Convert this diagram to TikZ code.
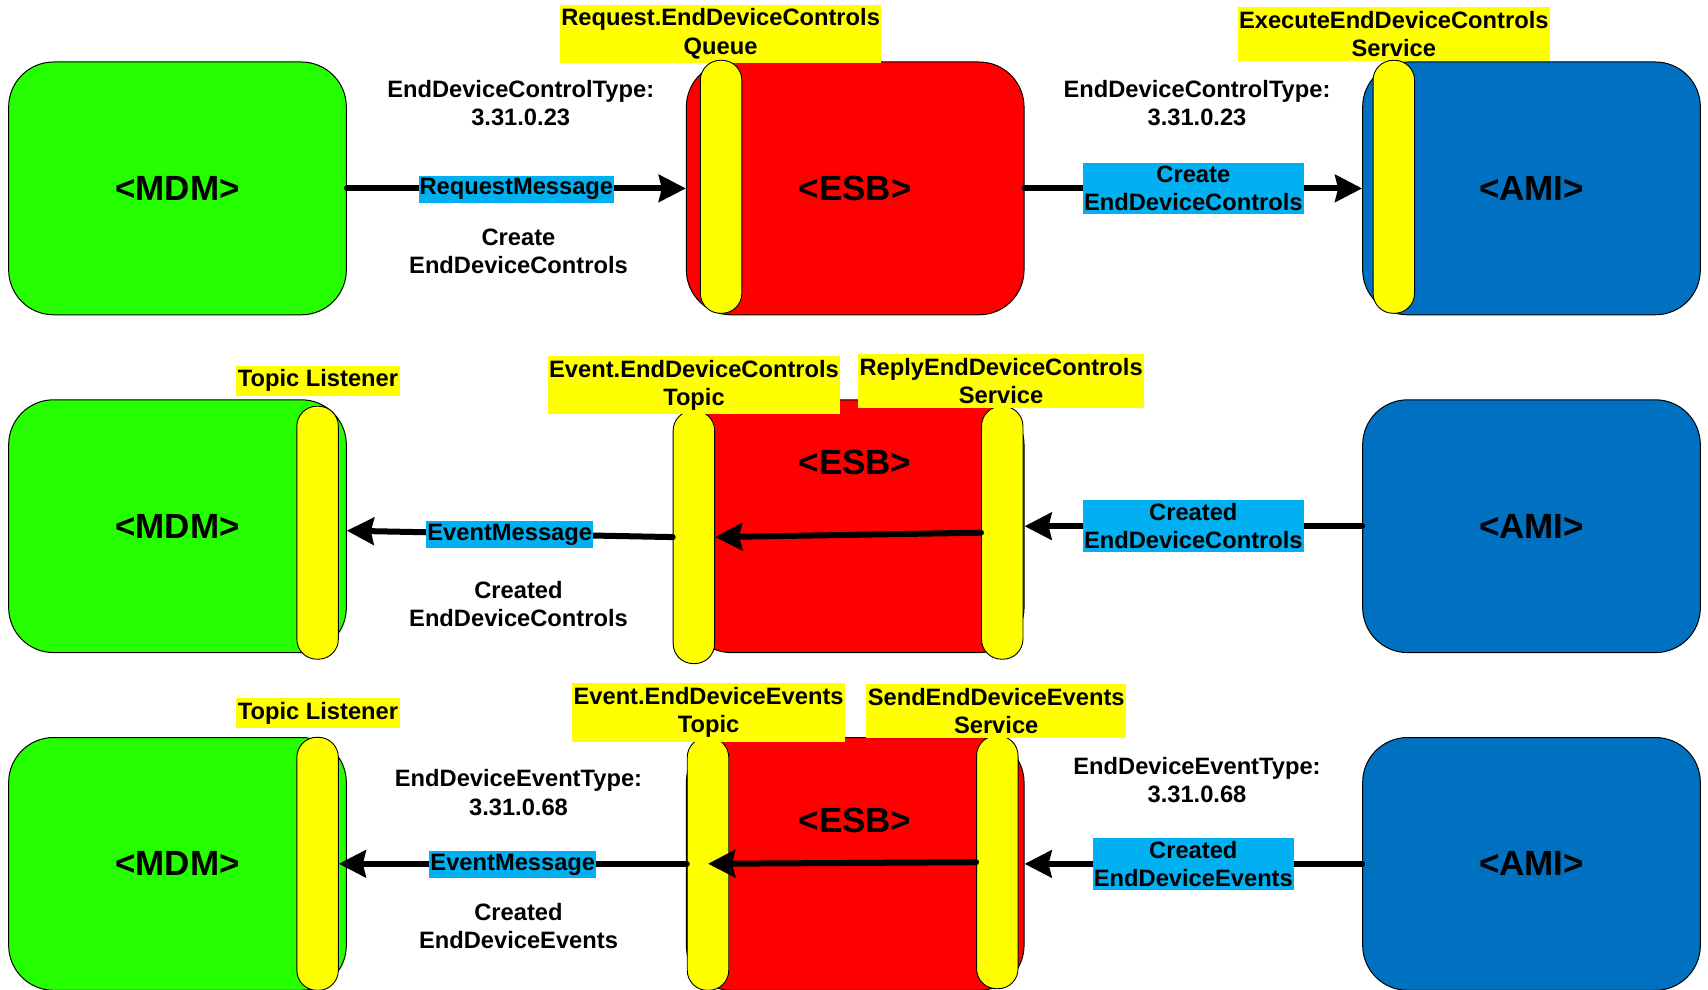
\documentclass[tikz,border=0pt]{standalone}
\usepackage{fontspec}
\setmainfont{Liberation Sans}
\usetikzlibrary{arrows.meta,calc}
\definecolor{mdmgreen}{RGB}{38,255,0}
\definecolor{esbred}{RGB}{255,0,0}
\definecolor{amiblue}{RGB}{0,112,192}
\definecolor{msgblue}{RGB}{0,176,240}
\definecolor{qyellow}{RGB}{255,255,0}
\begin{document}
\begin{tikzpicture}[x=1pt,y=-1pt,
  sysbox/.style={draw=black, line width=1pt, rounded corners=45pt,
    minimum width=337.7pt, minimum height=252.8pt, inner sep=0pt,
    font=\fontsize{35}{40}\selectfont\bfseries},
  pill/.style={draw=black, line width=0.9pt, fill=qyellow, rounded corners=20pt,
    minimum width=41.5pt, minimum height=253pt, inner sep=0pt},
  title/.style={font=\fontsize{35}{40}\selectfont\bfseries, inner sep=0pt},
  txt/.style={font=\fontsize{23.7}{28.3}\selectfont\bfseries, align=center, inner sep=0pt},
  tag/.style={txt, fill=qyellow, inner xsep=1.5pt, inner ysep=4pt},
  msg/.style={txt, fill=msgblue, inner xsep=1pt, inner ysep=3pt},
  flow/.style={line width=6pt, line cap=round,
    -{Stealth[length=27pt,width=27pt,inset=3pt]}}
]
\useasboundingbox (0,0) rectangle (1708,990);

% ---------- system boxes ----------
\node[sysbox, fill=mdmgreen] (mdm1) at (177.5,188.4) {<MDM>};
\node[sysbox, fill=esbred]   (esb1) at (855.2,188.4) {<ESB>};
\node[sysbox, fill=amiblue]  (ami1) at (1531.5,188.4) {<AMI>};

\node[sysbox, fill=mdmgreen] (mdm2) at (177.5,526.2) {<MDM>};
\node[sysbox, fill=esbred]   (esb2) at (855.2,526.2) {};
\node[sysbox, fill=amiblue]  (ami2) at (1531.5,526.2) {<AMI>};

\node[sysbox, fill=mdmgreen] (mdm3) at (177.5,863.9) {<MDM>};
\node[sysbox, fill=esbred]   (esb3) at (855.2,863.9) {};
\node[sysbox, fill=amiblue]  (ami3) at (1531.5,863.9) {<AMI>};

% ---------- endpoint tags of the first flow ----------
\node[tag] (q1) at (720.6,33.8) {Request.EndDeviceControls\\Queue};
\node[tag] (s1) at (1393.8,33.8) {ExecuteEndDeviceControls\\Service};

% ---------- queues, topics and services ----------
\node[pill] (ep1) at (721.1,186.8) {};
\node[pill] (ap1) at (1393.8,186.8) {};

\node[pill] (mp2) at (317.6,532.7) {};
\node[pill] (lp2) at (693.9,537.1) {};
\node[pill] (rp2) at (1002.2,532.7) {};

\node[pill] (mp3) at (317.6,863.8) {};
\node[pill] (lp3) at (708.0,863.8) {};
\node[pill] (rp3) at (997.3,862.2) {};

\node[title] (esb2t) at (855,462) {<ESB>};
\node[title] (esb3t) at (855,820.2) {<ESB>};

% ---------- flow 1: request ----------
\draw[flow] (mdm1.east) -- (esb1.west)
  node[msg, midway, yshift=-0.8pt] (m1) {RequestMessage};
\draw[flow] (esb1.east) -- (ami1.west)
  node[msg, midway] (c1) {Create\\EndDeviceControls};
\node[txt] (t1a) at (520.7,103.2) {EndDeviceControlType:\\3.31.0.23};
\node[txt] (t1b) at (1197,103.2) {EndDeviceControlType:\\3.31.0.23};
\node[txt] (d1) at (518.5,251) {Create\\EndDeviceControls};

% ---------- flow 2: reply ----------
\coordinate (mdm2in) at ($(mp2.east)+(8,-2)$);
\draw[flow] (ami2.west) -- (esb2.east)
  node[msg, midway] (c2) {Created\\EndDeviceControls};
\draw[flow] (rp2.west) -- (lp2.east);
\draw[flow] (lp2.west) -- (mdm2in)
  node[msg, midway, yshift=-0.8pt] (m2) {EventMessage};
\node[tag] (tl2) at (318,380.8) {Topic Listener};
\node[tag] (et2) at (694,385.2) {Event.EndDeviceControls\\Topic};
\node[tag] (rs2) at (1001.1,380.8) {ReplyEndDeviceControls\\Service};
\node[txt] (d2) at (518.5,604) {Created\\EndDeviceControls};

% ---------- flow 3: events ----------
\draw[flow] (ami3.west) -- (esb3.east)
  node[msg, midway] (c3) {Created\\EndDeviceEvents};
\draw[flow] (rp3.west) -- (lp3.center);
\draw[flow] (lp3.west) -- (mp3.east)
  node[msg, midway, yshift=-0.8pt] (m3) {EventMessage};
\node[tag] (tl3) at (318,713) {Topic Listener};
\node[tag] (et3) at (708.6,712.5) {Event.EndDeviceEvents\\Topic};
\node[tag] (ss3) at (996.2,710.8) {SendEndDeviceEvents\\Service};
\node[txt] (t3a) at (518.5,792.4) {EndDeviceEventType:\\3.31.0.68};
\node[txt] (t3b) at (1197,779.8) {EndDeviceEventType:\\3.31.0.68};
\node[txt] (d3) at (518.5,925.8) {Created\\EndDeviceEvents};
\end{tikzpicture}
\end{document}
